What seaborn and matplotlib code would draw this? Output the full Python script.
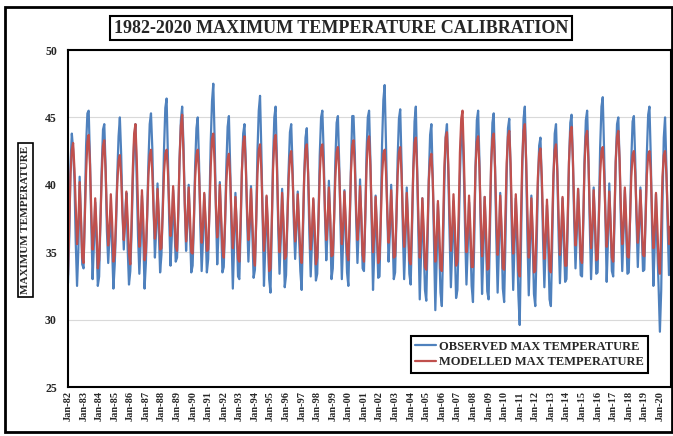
import numpy as np
import pandas as pd
import matplotlib
matplotlib.use("Agg")
import matplotlib.pyplot as plt
from matplotlib.patches import Rectangle
import seaborn as sns

years = list(range(1982, 2021))
tick_labels = ["Jan-%02d" % (y % 100) for y in years]

# Observed monthly max temperature (Jan..Dec per row)
observed = [
    32.7, 36.2, 41.5, 43.8, 42.6, 40.4, 35.8, 32.5, 35.2, 40.6, 37.4, 34.1,
    33.8, 38.2, 42.9, 45.3, 45.5, 41.8, 37.1, 33.0, 35.6, 38.7, 35.9, 32.5,
    33.2, 37.4, 41.2, 44.1, 44.5, 41.3, 36.6, 34.2, 36.3, 38.1, 35.1, 32.3,
    34.1, 37.0, 40.7, 43.6, 45.0, 42.2, 38.1, 35.2, 37.6, 39.4, 35.2, 32.6,
    33.6, 36.6, 40.3, 43.2, 44.5, 40.1, 36.2, 33.4, 35.7, 39.2, 36.1, 32.3,
    34.2, 37.8, 41.6, 44.5, 45.3, 42.7, 38.2, 34.6, 36.8, 40.1, 36.5, 33.5,
    34.8, 38.4, 42.6, 45.7, 46.4, 42.1, 37.3, 34.0, 36.2, 39.6, 37.0, 34.3,
    34.6, 37.9, 41.9, 44.8, 45.8, 43.0, 38.6, 35.1, 37.2, 40.0, 36.4, 33.5,
    34.0, 37.2, 41.4, 44.2, 45.0, 41.6, 36.9, 33.6, 35.9, 39.3, 36.8, 33.5,
    34.5, 38.6, 43.1, 46.2, 47.5, 43.4, 38.2, 34.1, 36.5, 40.2, 37.1, 33.5,
    33.9, 37.1, 41.3, 44.3, 45.1, 41.2, 36.4, 32.3, 35.6, 39.4, 36.5, 33.2,
    33.0, 36.8, 40.9, 43.8, 44.5, 41.7, 37.6, 34.3, 36.7, 39.9, 36.3, 33.1,
    33.7, 37.6, 42.4, 45.5, 46.6, 42.5, 37.4, 32.5, 35.4, 39.1, 36.2, 33.0,
    32.0, 36.9, 41.8, 45.0, 45.8, 41.9, 36.8, 33.4, 36.1, 39.7, 36.6, 32.4,
    33.3, 37.3, 41.1, 43.9, 44.5, 41.4, 37.2, 34.5, 36.9, 39.5, 36.2, 33.6,
    32.2, 36.4, 40.6, 43.5, 44.2, 40.8, 36.3, 33.2, 35.8, 38.9, 35.7, 32.9,
    33.4, 37.7, 42.2, 45.0, 45.5, 42.4, 37.8, 34.4, 36.6, 40.3, 37.2, 33.0,
    33.8, 37.5, 41.7, 44.6, 45.1, 41.5, 37.0, 33.0, 35.9, 39.6, 36.4, 33.5,
    32.5, 36.8, 41.2, 45.1, 45.1, 42.3, 37.5, 34.2, 36.8, 40.4, 37.3, 33.8,
    33.6, 37.6, 42.3, 45.0, 45.5, 41.8, 36.9, 32.2, 35.1, 39.2, 36.0, 33.1,
    33.2, 37.9, 43.0, 46.3, 47.4, 43.1, 38.0, 34.3, 36.4, 40.0, 36.6, 33.0,
    33.5, 37.4, 41.9, 44.9, 45.6, 41.6, 36.7, 33.0, 35.8, 39.8, 36.9, 33.4,
    32.6, 36.5, 41.0, 44.7, 45.8, 41.2, 36.2, 31.5, 34.9, 39.0, 35.6, 32.2,
    31.4, 35.8, 40.4, 43.7, 44.5, 40.6, 35.6, 30.7, 34.3, 38.6, 35.3, 32.0,
    31.0, 35.5, 40.2, 43.6, 44.5, 41.0, 36.4, 32.4, 35.2, 38.8, 35.4, 31.6,
    32.2, 36.3, 40.7, 43.9, 44.3, 40.9, 36.5, 32.6, 35.4, 38.7, 35.8, 32.5,
    31.3, 36.0, 41.4, 44.8, 45.5, 41.7, 36.6, 31.9, 35.0, 39.1, 35.9, 32.1,
    31.5, 36.2, 41.3, 44.6, 45.3, 41.3, 36.1, 32.0, 35.3, 39.4, 36.1, 32.3,
    31.3, 35.9, 40.8, 44.2, 44.9, 41.1, 36.3, 32.2, 35.5, 39.0, 35.7, 31.8,
    29.6, 35.4, 41.1, 44.9, 45.8, 41.5, 36.0, 31.8, 35.1, 39.2, 35.8, 31.9,
    31.0, 35.2, 39.8, 42.9, 43.5, 40.3, 35.9, 32.4, 35.6, 38.5, 35.2, 31.5,
    31.0, 35.6, 40.3, 43.8, 44.5, 41.0, 36.2, 32.7, 35.7, 39.0, 35.9, 32.8,
    33.0, 37.1, 41.6, 44.6, 45.2, 41.8, 37.3, 33.8, 36.4, 39.7, 36.6, 33.3,
    33.2, 37.3, 41.9, 44.8, 45.5, 42.0, 37.1, 33.0, 36.0, 39.8, 36.8, 33.4,
    33.5, 38.0, 42.8, 45.8, 46.5, 42.6, 37.6, 32.8, 35.9, 40.1, 37.0, 33.6,
    33.2, 37.4, 41.7, 44.5, 45.0, 41.6, 37.2, 33.6, 36.5, 39.6, 36.5, 33.4,
    33.5, 37.6, 41.8, 44.7, 45.1, 41.9, 37.4, 33.9, 36.7, 39.8, 36.7, 33.6,
    33.7, 37.9, 42.3, 45.2, 45.8, 42.1, 36.8, 32.5, 35.4, 39.3, 35.4, 32.5,
    29.1, 32.2, 38.5, 43.5, 45.0, 41.4, 36.9, 33.3, 36.2, 33.0, 32.6, 33.5,
]

# Modelled monthly max temperature (Jan..Dec per row)
modelled = [
    33.3, 37.2, 40.8, 42.6, 43.1, 41.2, 38.4, 35.6, 37.0, 40.2, 37.6, 34.6,
    34.2, 37.6, 40.9, 43.2, 43.7, 41.5, 38.0, 35.2, 36.6, 39.0, 36.8, 33.8,
    34.4, 37.3, 40.6, 42.9, 43.3, 41.0, 37.8, 35.5, 36.9, 39.3, 37.2, 34.3,
    34.8, 37.5, 40.1, 41.8, 42.2, 40.6, 37.9, 35.9, 37.1, 39.5, 37.4, 34.9,
    34.1, 37.4, 41.2, 43.8, 44.5, 41.9, 38.3, 35.4, 36.8, 39.6, 37.3, 34.4,
    35.0, 37.8, 40.7, 42.2, 42.6, 40.9, 38.1, 36.0, 37.3, 39.7, 37.8, 35.2,
    35.3, 38.0, 40.9, 42.3, 42.6, 41.0, 38.4, 36.2, 37.4, 39.9, 37.9, 35.4,
    35.1, 38.3, 41.9, 44.4, 45.2, 42.3, 38.6, 35.8, 37.2, 39.8, 37.6, 35.0,
    34.9, 37.6, 40.5, 42.2, 42.6, 40.8, 38.0, 35.7, 37.0, 39.4, 37.5, 35.1,
    35.2, 38.1, 41.3, 43.4, 43.8, 41.6, 38.5, 36.1, 37.5, 40.0, 37.7, 35.3,
    34.6, 37.3, 40.2, 41.9, 42.3, 40.5, 37.6, 35.3, 36.7, 39.1, 37.0, 34.5,
    34.3, 37.5, 41.0, 43.1, 43.6, 41.4, 38.2, 35.9, 37.3, 39.7, 37.4, 34.8,
    34.0, 37.4, 40.8, 42.6, 43.0, 41.1, 37.9, 35.1, 36.5, 39.2, 37.1, 33.6,
    33.8, 37.3, 41.1, 43.3, 43.7, 41.3, 37.7, 35.0, 36.6, 39.4, 37.3, 34.5,
    34.7, 37.4, 40.4, 42.1, 42.5, 40.7, 38.0, 35.8, 37.1, 39.3, 37.2, 34.9,
    34.2, 37.2, 40.6, 42.6, 43.0, 40.9, 37.7, 35.2, 36.6, 39.0, 36.9, 34.1,
    34.6, 37.6, 40.8, 42.7, 43.0, 41.2, 38.2, 35.9, 37.2, 39.8, 37.7, 34.7,
    34.8, 37.5, 40.5, 42.4, 42.8, 40.9, 38.0, 35.6, 37.0, 39.5, 37.4, 34.9,
    34.4, 37.4, 40.9, 42.9, 43.3, 41.3, 38.3, 35.9, 37.3, 39.9, 37.6, 34.8,
    34.3, 37.7, 41.2, 43.2, 43.6, 41.4, 37.9, 35.0, 36.4, 39.1, 36.9, 34.2,
    34.5, 37.5, 40.6, 42.3, 42.6, 41.0, 38.1, 35.7, 37.1, 39.6, 37.3, 34.6,
    34.7, 37.6, 40.7, 42.4, 42.8, 40.8, 37.8, 35.4, 36.8, 39.4, 37.2, 34.4,
    34.1, 37.3, 41.0, 43.1, 43.5, 41.0, 37.5, 34.6, 36.2, 39.0, 36.8, 33.9,
    33.7, 36.9, 40.3, 41.9, 42.3, 40.4, 37.2, 34.3, 36.0, 38.8, 36.6, 33.8,
    33.6, 37.2, 41.3, 43.5, 43.9, 41.5, 37.9, 35.1, 36.6, 39.3, 37.0, 34.0,
    34.3, 38.0, 42.4, 44.9, 45.5, 42.1, 38.0, 35.0, 36.5, 39.2, 36.8, 33.9,
    33.9, 37.5, 41.3, 43.2, 43.6, 41.2, 37.6, 34.7, 36.3, 39.1, 36.7, 33.7,
    33.8, 37.6, 41.5, 43.4, 43.8, 41.3, 37.7, 34.8, 36.4, 39.2, 36.9, 33.8,
    33.7, 37.7, 41.6, 43.6, 44.0, 41.6, 37.8, 34.9, 36.5, 39.3, 37.0, 33.6,
    33.2, 37.6, 41.8, 44.0, 44.5, 41.8, 38.0, 34.6, 36.2, 39.0, 36.6, 33.5,
    33.6, 37.0, 40.5, 42.3, 42.7, 40.6, 37.4, 34.5, 36.1, 38.9, 36.7, 33.7,
    33.5, 37.1, 40.7, 42.6, 43.0, 41.0, 37.6, 34.8, 36.4, 39.1, 36.9, 34.0,
    34.0, 37.8, 41.7, 43.9, 44.3, 41.9, 38.3, 35.5, 36.9, 39.7, 37.4, 34.5,
    34.2, 37.7, 41.5, 43.6, 44.0, 41.7, 38.1, 35.3, 36.8, 39.6, 37.3, 34.4,
    34.5, 37.6, 40.8, 42.5, 42.8, 41.0, 37.9, 35.4, 36.9, 39.5, 37.2, 34.6,
    34.3, 37.9, 41.7, 43.6, 44.0, 41.8, 38.2, 35.6, 37.0, 39.8, 37.5, 34.7,
    34.6, 37.5, 40.6, 42.2, 42.5, 40.9, 38.0, 35.7, 37.1, 39.6, 37.4, 34.8,
    34.7, 37.6, 40.7, 42.2, 42.5, 41.0, 37.9, 35.3, 36.7, 39.4, 37.0, 34.2,
    33.4, 36.8, 40.6, 42.2, 42.5, 40.8, 38.0, 35.6, 36.9, 35.2, 34.9, 34.6,
]

dates = pd.date_range("1982-01-01", periods=len(observed), freq="MS")
df = pd.DataFrame({
    "date": np.concatenate([dates, dates]),
    "value": observed + modelled,
    "series": ["OBSERVED MAX TEMPERATURE"] * len(observed)
              + ["MODELLED MAX TEMPERATURE"] * len(modelled),
})

sns.set_theme(style="white")
plt.rcParams["font.family"] = ["Liberation Serif", "DejaVu Serif"]
plt.rcParams["font.weight"] = "bold"

fig = plt.figure(figsize=(6.73, 4.36), dpi=100)
fig.patch.set_facecolor("white")
ax = fig.add_axes([68 / 673, 1 - 387 / 436, (671 - 68) / 673, (387 - 50) / 436])

palette = {"OBSERVED MAX TEMPERATURE": "#4F81BD", "MODELLED MAX TEMPERATURE": "#C0504D"}
sns.lineplot(data=df, x="date", y="value", hue="series", palette=palette,
             linewidth=1.6, ax=ax, legend=True)

ax.set_ylim(25, 50)
ax.set_yticks([25, 30, 35, 40, 45, 50])
ax.set_yticklabels(["25", "30", "35", "40", "45", "50"], fontsize=8.5, fontweight="bold")
start = pd.Timestamp("1982-01-01")
ax.set_xlim(start, start + pd.Timedelta(days=464.5 * 30.44))
ticks = [pd.Timestamp("%d-01-01" % y) for y in years]
ax.set_xticks(ticks)
ax.set_xticklabels(tick_labels, rotation=90, fontsize=7.5, fontweight="bold")
ax.tick_params(axis="both", length=0, pad=3)
ax.tick_params(axis="y", pad=8)
ax.yaxis.grid(True, color="#d9d9d9", linewidth=0.8)
ax.xaxis.grid(False)
for s in ax.spines.values():
    s.set_visible(True)
    s.set_color("black")
    s.set_linewidth(1.5)

ax.set_xlabel("")
ax.set_ylabel("MAXIMUM TEMPERATURE", fontsize=8, fontweight="bold",
              bbox=dict(boxstyle="square,pad=0.25", fc="white", ec="black", lw=1.2))
ax.yaxis.set_label_coords((30 - 68) / 603, 0.495)

leg = ax.legend(loc="lower right", bbox_to_anchor=(0.962, 0.042), frameon=True,
                fancybox=False, framealpha=1, edgecolor="black",
                prop={"family": "Liberation Serif", "weight": "bold", "size": 9},
                handlelength=1.7, handletextpad=0.2, borderpad=0.35, labelspacing=0.3,
                borderaxespad=0)
leg.get_frame().set_linewidth(1.5)

fig.text(341 / 673, 1 - 28 / 436, "1982-2020 MAXIMUM TEMPERATURE CALIBRATION",
         ha="center", va="center", fontsize=13, fontweight="bold",
         bbox=dict(boxstyle="square,pad=0.2", fc="white", ec="black", lw=1.5))

fig.patches.append(Rectangle((5 / 673, 4 / 436), 667 / 673, 425 / 436,
                             transform=fig.transFigure, fill=False,
                             edgecolor="black", linewidth=2))

fig.savefig("out.png", dpi=100)
